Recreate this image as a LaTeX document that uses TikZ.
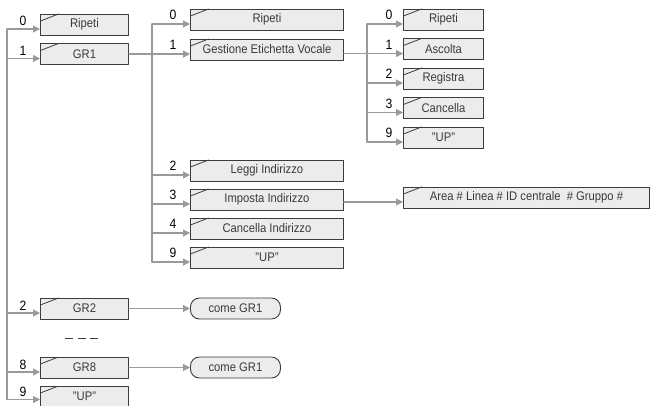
\documentclass[tikz,border=0pt]{standalone}
\usepackage{fontspec}
\setmainfont{Liberation Sans}[FakeStretch=0.9]
\usetikzlibrary{arrows.meta,calc}
\definecolor{linegray}{HTML}{9A9A9A}
\definecolor{boxline}{HTML}{3C3C3C}
\definecolor{boxfill}{HTML}{ECECEC}
\definecolor{textgray}{HTML}{3A3A3A}
\begin{document}
\begin{tikzpicture}[x=1pt,y=-1pt,line cap=round,line join=round,
  conn/.style={draw=linegray,line width=1.1pt},
  arr/.style={conn,-{Triangle[length=7pt,width=7pt]}},
  menu/.style={draw=boxline,fill=boxfill,line width=0.9pt,minimum height=21pt,inner sep=0pt,
    anchor=west,text=textgray,font=\fontsize{12.5}{13}\selectfont,
    path picture={\draw[boxline,line width=0.8pt]
      ([yshift=-7pt]path picture bounding box.north west) -- ([xshift=18pt]path picture bounding box.north west);}},
  same/.style={draw=boxline,fill=boxfill,line width=0.9pt,minimum height=21pt,minimum width=90pt,
    inner sep=0pt,anchor=west,rounded corners=9pt,text=textgray,font=\fontsize{12.5}{13}\selectfont},
  key/.style={anchor=base,inner sep=0pt,font=\fontsize{13.5}{14}\selectfont}]
  \clip (0,0) rectangle (651,406);
  \coordinate (ta) at (7,0);
  \coordinate (tb) at (152,0);
  \coordinate (tc) at (367,0);
  \node[menu,minimum width=88pt] (a0) at (40,24.5) {Ripeti};
  \node[menu,minimum width=88pt] (a1) at (40,54) {GR1};
  \node[menu,minimum width=88pt] (a2) at (40,308.5) {GR2};
  \node[menu,minimum width=88pt] (a8) at (40,367.5) {GR8};
  \node[menu,minimum width=88pt] (a9) at (40,396.5) {"UP"};
  \node[menu,minimum width=153pt] (b0) at (190,19.5) {Ripeti};
  \node[menu,minimum width=153pt] (b1) at (190,49.5) {Gestione Etichetta Vocale};
  \node[menu,minimum width=153pt] (b2) at (190,170.5) {Leggi Indirizzo};
  \node[menu,minimum width=153pt] (b3) at (190,199.5) {Imposta Indirizzo};
  \node[menu,minimum width=153pt] (b4) at (190,228.5) {Cancella Indirizzo};
  \node[menu,minimum width=153pt] (b9) at (190,257.5) {"UP"};
  \node[menu,minimum width=80pt] (c0) at (403,19.5) {Ripeti};
  \node[menu,minimum width=80pt] (c1) at (403,49) {Ascolta};
  \node[menu,minimum width=80pt] (c2) at (403,78.5) {Registra};
  \node[menu,minimum width=80pt] (c3) at (403,108) {Cancella};
  \node[menu,minimum width=80pt] (c9) at (403,137.5) {"UP"};
  \node[menu,minimum width=246pt] (d) at (403,197.5) {Area \# Linea \# ID centrale \ \# Gruppo \#};
  \node[same] (e2) at (190,308.5) {come GR1};
  \node[same] (e8) at (190,367.5) {come GR1};
  \coordinate (a0in) at (40,29);
  \coordinate (a1in) at (40,58.5);
  \coordinate (a2in) at (40,313);
  \coordinate (a8in) at (40,372);
  \coordinate (a9in) at (40,399.5);
  \coordinate (b0in) at (190,24);
  \coordinate (b1in) at (190,54);
  \coordinate (b2in) at (190,175);
  \coordinate (b3in) at (190,204);
  \coordinate (b4in) at (190,233);
  \coordinate (b9in) at (190,262);
  \coordinate (c0in) at (403,24);
  \coordinate (c1in) at (403,53.5);
  \coordinate (c2in) at (403,83);
  \coordinate (c3in) at (403,112.5);
  \coordinate (c9in) at (403,142);
  \coordinate (din) at (403,202);
  \draw[conn] (a0in -| ta) -- (a9in -| ta);
  \draw[conn] (b0in -| tb) -- (b9in -| tb);
  \draw[conn] (c0in -| tc) -- (c9in -| tc);
  \foreach \n in {a0,a1,a2,a8,a9} \draw[arr] (\n in -| ta) -- (\n in);
  \foreach \n in {b0,b2,b3,b4,b9} \draw[arr] (\n in -| tb) -- (\n in);
  \foreach \n in {c0,c2,c3,c9} \draw[arr] (\n in -| tc) -- (\n in);
  \draw[arr] (a1.east |- b1in) -- (b1in);
  \draw[arr] (b1.east |- c1in) -- (c1in);
  \draw[arr] (b3.east |- din) -- (din);
  \draw[arr] (a2.east) -- (e2.west);
  \draw[arr] (a8.east) -- (e8.west);
  \foreach \n/\t in {a0/0,a1/1,a2/2,a8/8,a9/9} \node[key] (k\n) at ($(\n in)+(-17,-3)$) {\t};
  \foreach \n/\t in {b0/0,b1/1,b2/2,b3/3,b4/4,b9/9} \node[key] (k\n) at ($(\n in)+(-17,-4)$) {\t};
  \foreach \n/\t in {c0/0,c1/1,c2/2,c3/3,c9/9} \node[key] (k\n) at ($(\n in)+(-14,-4)$) {\t};
  \draw[boxline,line width=1pt,line cap=butt,dash pattern=on 8pt off 4.5pt] (65,338) -- (98,338);
\end{tikzpicture}
\end{document}
